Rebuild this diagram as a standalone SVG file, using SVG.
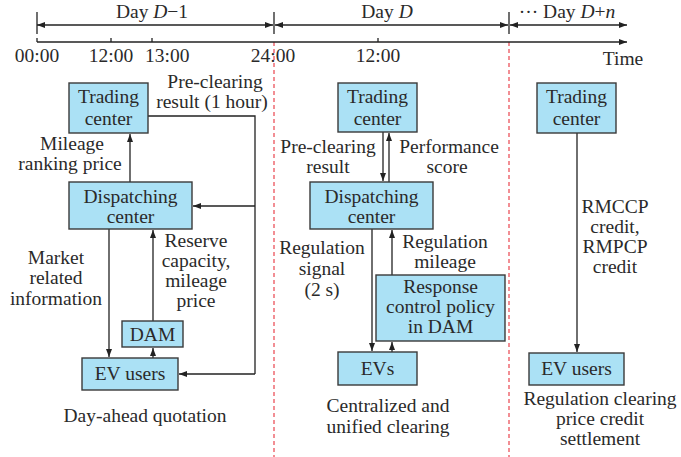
<svg xmlns="http://www.w3.org/2000/svg" width="681" height="457" viewBox="0 0 681 457" font-family="'Liberation Serif', 'Times New Roman', serif">
<defs>
<marker id="ah" markerUnits="userSpaceOnUse" markerWidth="9" markerHeight="7" refX="8" refY="3" orient="auto-start-reverse">
<path d="M0,0 L8,3 L0,6 z" fill="#222"/>
</marker>
<style>
text{font-family:'Liberation Serif',serif;font-size:19.5px;fill:#2a2a2a;text-anchor:middle}
.box{fill:#abe1f5;stroke:#3a3a3a;stroke-width:1.4}
.ln{fill:none;stroke:#222;stroke-width:1.3}
.ar{fill:none;stroke:#222;stroke-width:1.3;marker-end:url(#ah)}
.red{stroke:#ee6a72;stroke-width:1.5;stroke-dasharray:4 3}
.st{text-anchor:start}
</style>
</defs>
<rect width="681" height="457" fill="#fff"/>
<g id="timeline">
<line class="red" x1="274" y1="42" x2="274" y2="457"/>
<line class="red" x1="509" y1="42" x2="509" y2="457"/>
<line class="ln" x1="37" y1="12" x2="37" y2="34"/>
<line class="ln" x1="274" y1="12" x2="274" y2="34"/>
<line class="ln" x1="509" y1="12" x2="509" y2="34"/>
<line class="ln" x1="37" y1="25" x2="273" y2="25" style="marker-start:url(#ah);marker-end:url(#ah)"/>
<line class="ln" x1="275" y1="25" x2="508" y2="25" style="marker-start:url(#ah);marker-end:url(#ah)"/>
<line class="ar" x1="510" y1="25" x2="627" y2="25" style="marker-start:url(#ah)"/>
<line class="ar" x1="37" y1="42" x2="627" y2="42"/>
<line class="ln" x1="37" y1="38" x2="37" y2="42"/>
<line class="ln" x1="111" y1="38" x2="111" y2="42"/>
<line class="ln" x1="152" y1="38" x2="152" y2="42"/>
<line class="ln" x1="378" y1="38" x2="378" y2="42"/>
<text x="152" y="18">Day <tspan font-style="italic">D</tspan>−1</text>
<text x="387" y="18">Day <tspan font-style="italic">D</tspan></text>
<text x="567" y="18">··· Day <tspan font-style="italic">D</tspan>+<tspan font-style="italic">n</tspan></text>
<text x="37" y="62">00:00</text>
<text x="111" y="62">12:00</text>
<text x="145" y="62" class="st">13:00</text>
<text x="273" y="62">24:00</text>
<text x="378" y="62">12:00</text>
<text x="623" y="65">Time</text>
</g>
<g id="connectors">
<line class="ar" x1="130" y1="182" x2="130" y2="134"/>
<polyline class="ln" points="148,116 255,116 255,374"/>
<line class="ar" x1="255" y1="374" x2="179" y2="374"/>
<line class="ar" x1="255" y1="206" x2="193" y2="206"/>
<line class="ar" x1="109" y1="229" x2="109" y2="357"/>
<line class="ar" x1="153" y1="358" x2="153" y2="348"/>
<line class="ar" x1="153" y1="321" x2="153" y2="230"/>
<line class="ar" x1="383" y1="132" x2="383" y2="181"/>
<line class="ar" x1="389" y1="182" x2="389" y2="133"/>
<line class="ar" x1="372" y1="229" x2="372" y2="351"/>
<line class="ar" x1="392" y1="352" x2="392" y2="342"/>
<line class="ar" x1="392" y1="275" x2="392" y2="230"/>
<line class="ar" x1="577" y1="133" x2="577" y2="352"/>
</g>
<g id="labels">
<text x="72" y="150">Mileage</text>
<text x="70" y="170">ranking price</text>
<text x="215" y="88">Pre-clearing</text>
<text x="212" y="108">result (1 hour)</text>
<text x="56" y="264">Market</text>
<text x="56" y="284">related</text>
<text x="56" y="305">information</text>
<text x="196" y="247">Reserve</text>
<text x="196" y="267">capacity,</text>
<text x="196" y="287">mileage</text>
<text x="196" y="307">price</text>
<text x="145" y="422">Day-ahead quotation</text>
<text x="328" y="153">Pre-clearing</text>
<text x="328" y="173">result</text>
<text x="449" y="153">Performance</text>
<text x="447" y="173">score</text>
<text x="322" y="254">Regulation</text>
<text x="322" y="275">signal</text>
<text x="322" y="296">(2 s)</text>
<text x="445" y="248">Regulation</text>
<text x="445" y="268">mileage</text>
<text x="388" y="412">Centralized and</text>
<text x="388" y="433">unified clearing</text>
<text x="615" y="213">RMCCP</text>
<text x="615" y="233">credit,</text>
<text x="615" y="253">RMPCP</text>
<text x="615" y="273">credit</text>
<text x="600" y="405">Regulation clearing</text>
<text x="600" y="425">price credit</text>
<text x="600" y="445">settlement</text>
</g>
<g id="tc1"><rect class="box" x="69" y="83" width="79" height="50"/><text x="108.5" y="103">Trading</text><text x="108.5" y="125">center</text></g>
<g id="dc1"><rect class="box" x="69" y="182" width="123" height="47"/><text x="130.5" y="203">Dispatching</text><text x="130.5" y="223">center</text></g>
<g id="dam1"><rect class="box" x="122" y="321" width="61" height="26"/><text x="152.5" y="341">DAM</text></g>
<g id="ev1"><rect class="box" x="82" y="358" width="96" height="32"/><text x="130" y="380">EV users</text></g>
<g id="tc2"><rect class="box" x="338" y="83" width="79" height="49"/><text x="377.5" y="103">Trading</text><text x="377.5" y="125">center</text></g>
<g id="dc2"><rect class="box" x="310" y="182" width="123" height="47"/><text x="371.5" y="203">Dispatching</text><text x="371.5" y="223">center</text></g>
<g id="rcp"><rect class="box" x="376" y="275" width="129" height="66"/><text x="440.5" y="293">Response</text><text x="440.5" y="313">control policy</text><text x="440.5" y="333">in DAM</text></g>
<g id="evs"><rect class="box" x="338" y="352" width="79" height="33"/><text x="377.5" y="375">EVs</text></g>
<g id="tc3"><rect class="box" x="537" y="83" width="79" height="50"/><text x="576.5" y="103">Trading</text><text x="576.5" y="125">center</text></g>
<g id="ev3"><rect class="box" x="529" y="353" width="95" height="32"/><text x="576.5" y="375">EV users</text></g>
</svg>
